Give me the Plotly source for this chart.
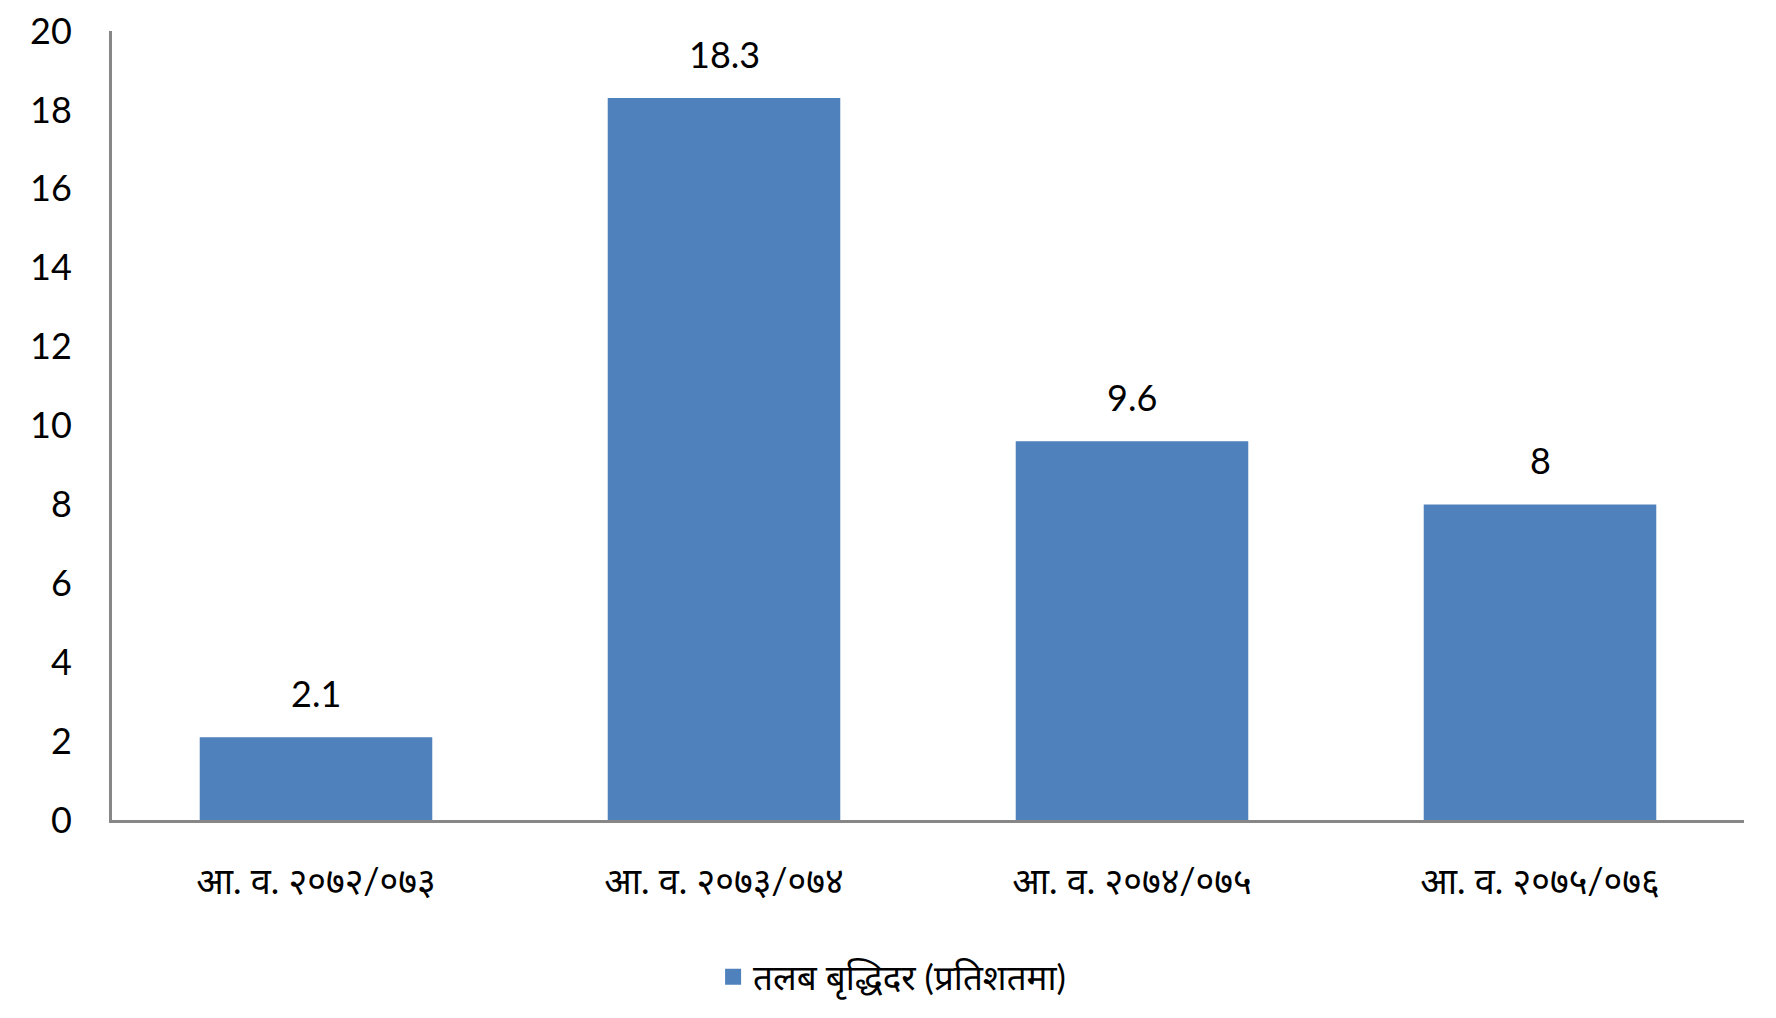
import plotly.graph_objects as go

# fiscal years (Nepali calendar) and salary growth rate in percent
years = ['आ. व. २०७२/०७३', 'आ. व. २०७३/०७४', 'आ. व. २०७४/०७५', 'आ. व. २०७५/०७६']
growth = [2.1, 18.3, 9.6, 8]
value_labels = ['2.1', '18.3', '9.6', '8']
series_name = 'तलब बृद्धिदर (प्रतिशतमा)'
y_ticks = [0, 2, 4, 6, 8, 10, 12, 14, 16, 18, 20]

BAR_COLOR = '#4F81BD'
AXIS_COLOR = '#878787'
FONT = 'Lato, Noto Sans, sans-serif'

fig = go.Figure()
fig.add_trace(
    go.Bar(
        x=years,
        y=growth,
        name=series_name,
        marker=dict(color=BAR_COLOR, line=dict(width=0)),
        showlegend=False,
    )
)
# legend entry only, so the swatch can be a bigger square like the original
fig.add_trace(
    go.Scatter(
        x=[None], y=[None], mode='markers', name=series_name,
        marker=dict(symbol='square', size=22, color=BAR_COLOR),
    )
)

for yr, val, lab in zip(years, growth, value_labels):
    fig.add_annotation(
        x=yr, y=val, text=lab, showarrow=False,
        yanchor='bottom', yshift=20,
        font=dict(family=FONT, size=36, color='black'),
    )

# page body adds 8px, so the figure is 16px smaller than the window
fig.update_layout(
    width=1760,
    height=1002,
    paper_bgcolor='white',
    plot_bgcolor='white',
    margin=dict(l=104, r=24, t=23, b=190),
    bargap=0.43,
    font=dict(family=FONT, color='black'),
    legend=dict(
        orientation='h',
        xref='paper', x=0.478, xanchor='center',
        yref='container', y=0.033, yanchor='middle',
        font=dict(size=35, color='black'),
        itemwidth=30,
    ),
)

fig.update_xaxes(
    showline=True, linecolor=AXIS_COLOR, linewidth=3,
    showgrid=False, ticks='', ticklabelstandoff=28,
    automargin=False,
    tickfont=dict(size=36, color='black'),
)
fig.update_yaxes(
    range=[0, 20], tickvals=y_ticks,
    showline=True, linecolor=AXIS_COLOR, linewidth=3,
    showgrid=False, zeroline=False, ticks='', ticklabelstandoff=30,
    ticklabeloverflow='allow', automargin=False,
    tickfont=dict(size=36, color='black'),
)

fig.write_html('out.html')
